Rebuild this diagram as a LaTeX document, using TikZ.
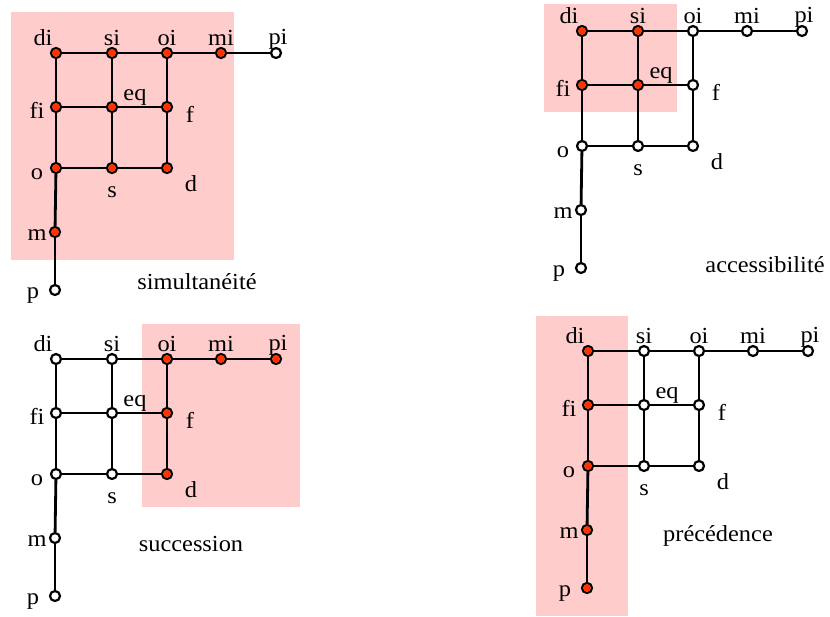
\documentclass[tikz,border=0pt]{standalone}
\usepackage{fontspec}
\setmainfont{Liberation Serif}[FakeStretch=1.06]
\usepackage{tikz}
\usepackage{xcolor}

\definecolor{hot}{HTML}{FF3300}
\definecolor{blush}{HTML}{FFCCCC}

\tikzset{
  vtx/.style={circle, draw, fill=white, inner sep=0pt, minimum size=5pt, line width=1.1pt},
  edge/.style={line width=1.4pt},
  lbl/.style={inner sep=0pt},
}

% one lattice: #1 prefix, #2/#3 shift, #4 red vertices
\newcommand{\drawlattice}[4]{%
\begin{scope}[shift={(#2,#3)}]
\foreach \n/\x/\y/\lx/\ly in {di/56/53/-13/-15, si/112/53/0/-15, oi/167/53/0/-15,
    mi/221/53/0/-15, pi/276/53/2/-14, fi/56/107/-19/3, eq/112/107/23/-10,
    f/167/107/23/7, o/56/168/-19/6, s/112/168/0/24, d/167/168/24/16,
    m/55/232/-18/3, p/55/290/-22/6}{
  \node[vtx] (#1\n) at (\x,\y) {};
  \node[lbl] (#1\n-t) at (\x+\lx,\y+\ly) {\n};
}
\foreach \a/\b in {di/si, si/oi, oi/mi, mi/pi, fi/eq, eq/f, o/s, s/d,
    di/fi, fi/o, o/m, m/p, si/eq, eq/s, oi/f, f/d}
  \draw[edge] (#1\a) -- (#1\b);
\foreach \n in {#4}
  \fill[hot] (#1\n) circle (1.95pt);
\end{scope}}

\begin{document}
\begin{tikzpicture}[x=0.5pt, y=-0.5pt, font=\fontsize{11.5}{13}\selectfont]
\useasboundingbox (0,0) rectangle (830,616);

% shaded zones
\fill[blush] (11,12) rectangle (234,260);
\fill[blush] (544,4) rectangle (677,112);
\fill[blush] (142,324) rectangle (300,507);
\fill[blush] (536,316) rectangle (628,616);

\drawlattice{a}{0}{0}{di,si,oi,mi,fi,eq,f,o,s,d,m}
\drawlattice{b}{526}{-22}{di,si,fi,eq}
\drawlattice{c}{0}{306}{oi,mi,pi,f,d}
\drawlattice{e}{532}{298}{di,fi,o,m,p}

\node (cap1) at (197,282) {simultanéité};
\node (cap2) at (765,265) {accessibilité};
\node (cap3) at (191,544) {succession};
\node (cap4) at (718,536) {précédence};
\end{tikzpicture}
\end{document}
